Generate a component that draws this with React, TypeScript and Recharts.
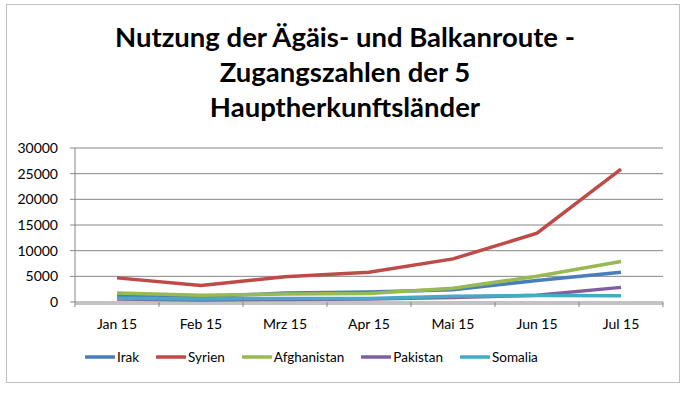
import { LineChart, Line, XAxis, YAxis, CartesianGrid, Legend } from "recharts";

const months = ["Jan 15", "Feb 15", "Mrz 15", "Apr 15", "Mai 15", "Jun 15", "Jul 15"];
const irak = [1300, 1000, 1750, 1950, 2400, 4200, 5800];
const syrien = [4700, 3200, 4900, 5800, 8400, 13400, 25900];
const afghanistan = [1750, 1300, 1550, 1650, 2700, 5000, 7900];
const pakistan = [600, 400, 500, 600, 900, 1300, 2850];
const somalia = [750, 600, 700, 700, 1100, 1250, 1200];
const yTicks = [0, 5000, 10000, 15000, 20000, 25000, 30000];
const boundaryTicks = [0, 1, 2, 3, 4, 5, 6, 7];

const series = [
  { key: "Irak", values: irak, color: "#4a7ebb" },
  { key: "Syrien", values: syrien, color: "#be4b48" },
  { key: "Afghanistan", values: afghanistan, color: "#98b954" },
  { key: "Pakistan", values: pakistan, color: "#7d60a0" },
  { key: "Somalia", values: somalia, color: "#46aac5" },
];

const data = months.map((m, i) => {
  const row: Record<string, string | number> = { month: m, idx: i + 0.5 };
  series.forEach((s) => (row[s.key] = s.values[i]));
  return row;
});

const font = "Lato, 'Open Sans', sans-serif";
const gray = "#868686";

const LegendContent = () => (
  <div style={{ display: "flex", paddingLeft: 85, fontFamily: font, fontSize: 13.5, color: "#000" }}>
    {series.map((s) => (
      <div key={s.key} style={{ display: "flex", alignItems: "center", marginRight: 17 }}>
        <svg width={30} height={6} style={{ marginRight: 2 }}>
          <line x1={1} y1={3} x2={29} y2={3} stroke={s.color} strokeWidth={3.5} strokeLinecap="round" />
        </svg>
        <span>{s.key}</span>
      </div>
    ))}
  </div>
);

export default function App() {
  return (
    <div style={{ position: "absolute", left: 0, top: 0, width: 690, height: 393, background: "#fff" }}>
      <div
        style={{
          position: "absolute",
          left: 6,
          top: 4,
          width: 674,
          height: 379,
          border: "1px solid #bfbfbf",
          boxSizing: "border-box",
        }}
      />
      <div
        style={{
          position: "absolute",
          left: 0,
          top: 19,
          width: 690,
          textAlign: "center",
          fontFamily: font,
          fontWeight: 700,
          fontSize: 27.5,
          lineHeight: "35px",
          color: "#000",
        }}
      >
        Nutzung der Ägäis- und Balkanroute -<br />
        Zugangszahlen der 5<br />
        Hauptherkunftsländer
      </div>
      <div style={{ position: "absolute", left: 0, top: 0 }}>
        <LineChart width={690} height={393} data={data} margin={{ top: 148, right: 27, left: 0, bottom: 24 }}>
          <CartesianGrid xAxisId="cat" vertical={false} stroke={gray} strokeWidth={1} />
          <XAxis
            xAxisId="b"
            dataKey="idx"
            type="number"
            domain={[0, 7]}
            ticks={boundaryTicks}
            height={2}
            tickFormatter={() => ""}
            tickSize={5}
            tickLine={{ stroke: gray }}
            axisLine={false}
          />
          <XAxis
            xAxisId="cat"
            dataKey="month"
            scale="band"
            height={45}
            tickLine={false}
            tickSize={8}
            tickMargin={7}
            axisLine={{ stroke: gray }}
            tick={{ fill: "#000", fontSize: 14, fontFamily: font }}
          />
          <YAxis
            domain={[0, 30000]}
            ticks={yTicks}
            width={75}
            tickSize={5}
            tickMargin={12}
            tickLine={{ stroke: gray }}
            axisLine={{ stroke: gray }}
            tick={{ fill: "#000", fontSize: 14, fontFamily: font }}
          />
          {series.map((s) => (
            <Line
              key={s.key}
              xAxisId="cat"
              dataKey={s.key}
              stroke={s.color}
              strokeWidth={3.5}
              dot={false}
              isAnimationActive={false}
            />
          ))}
          <Legend verticalAlign="bottom" height={20} content={<LegendContent />} />
        </LineChart>
      </div>
    </div>
  );
}
